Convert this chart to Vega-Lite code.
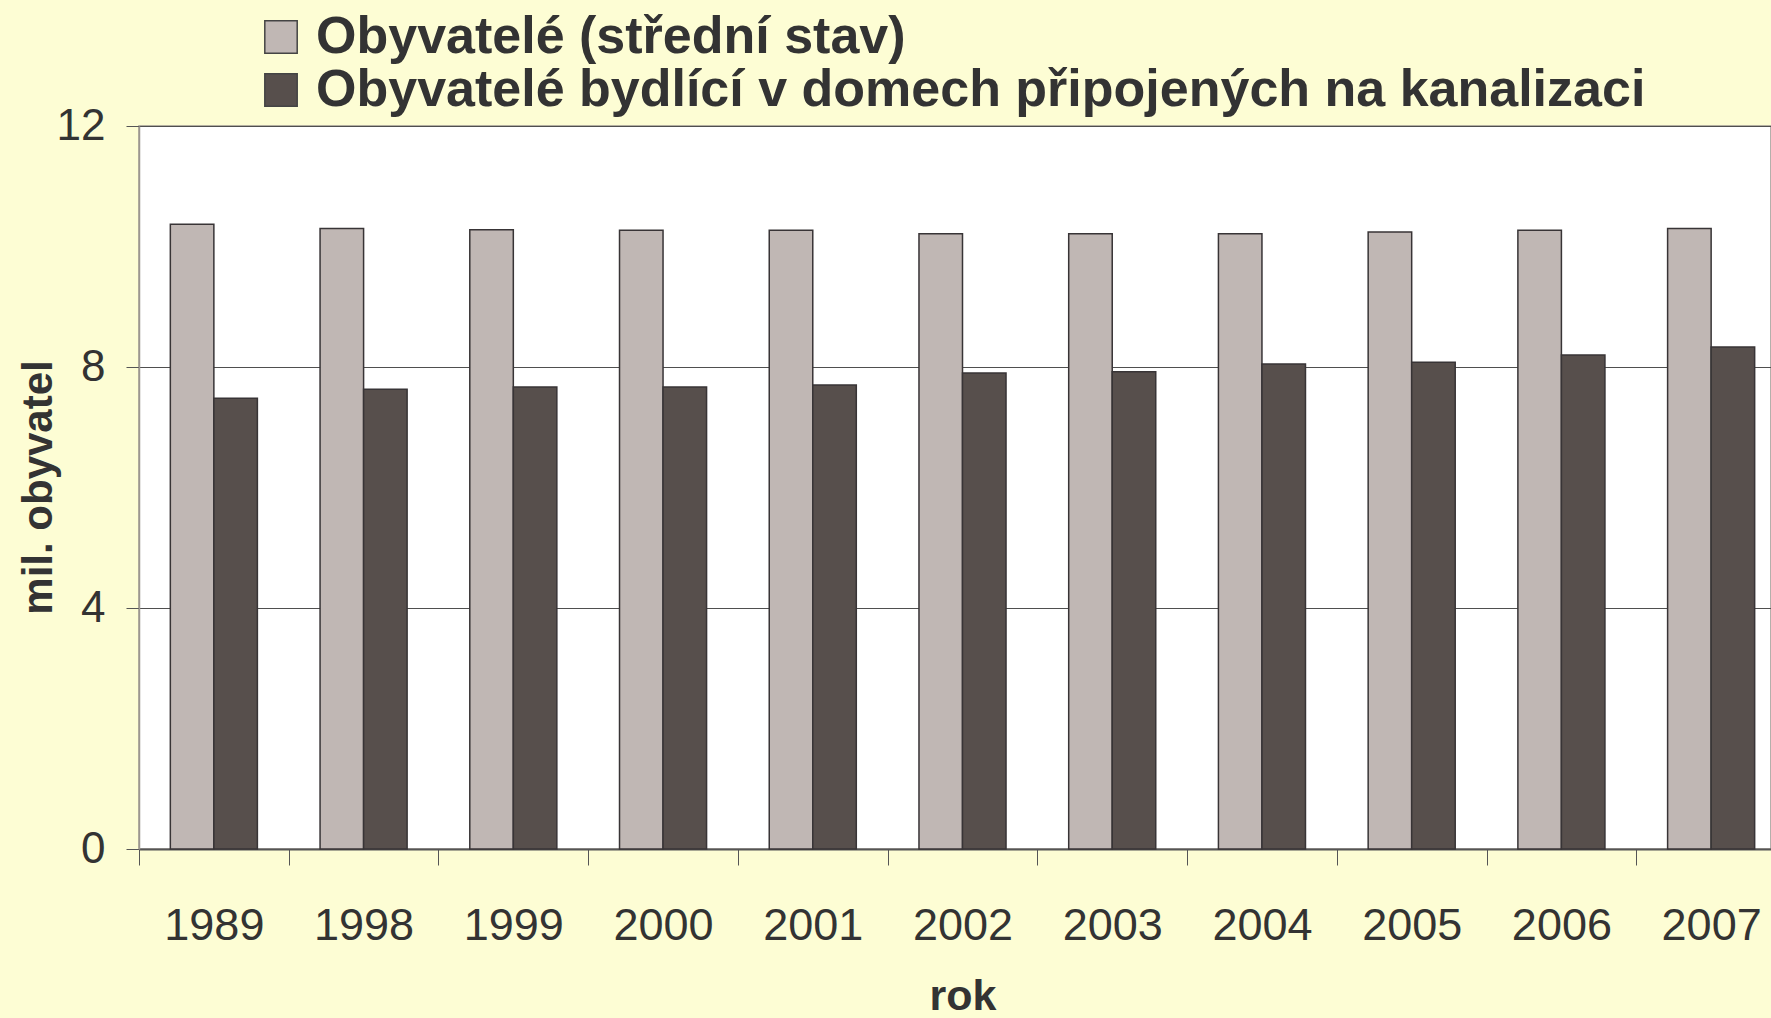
{
  "$schema": "https://vega.github.io/schema/vega-lite/v6.json",
  "autosize": {"type": "none"},
  "width": 1632,
  "height": 723,
  "padding": {"left": 139, "top": 126, "right": 0, "bottom": 169},
  "background": "#FDFDD4",
  "config": {
    "view": {"fill": "white", "stroke": "#9C9690", "strokeWidth": 1.5},
    "font": "Liberation Sans"
  },
  "data": {
    "values": [
      {"rok": "1989", "serie": "Obyvatelé (střední stav)", "hodnota": 10.37},
      {"rok": "1998", "serie": "Obyvatelé (střední stav)", "hodnota": 10.30},
      {"rok": "1999", "serie": "Obyvatelé (střední stav)", "hodnota": 10.28},
      {"rok": "2000", "serie": "Obyvatelé (střední stav)", "hodnota": 10.27},
      {"rok": "2001", "serie": "Obyvatelé (střední stav)", "hodnota": 10.27},
      {"rok": "2002", "serie": "Obyvatelé (střední stav)", "hodnota": 10.21},
      {"rok": "2003", "serie": "Obyvatelé (střední stav)", "hodnota": 10.21},
      {"rok": "2004", "serie": "Obyvatelé (střední stav)", "hodnota": 10.21},
      {"rok": "2005", "serie": "Obyvatelé (střední stav)", "hodnota": 10.24},
      {"rok": "2006", "serie": "Obyvatelé (střední stav)", "hodnota": 10.27},
      {"rok": "2007", "serie": "Obyvatelé (střední stav)", "hodnota": 10.30},
      {"rok": "1989", "serie": "Obyvatelé bydlící v domech připojených na kanalizaci", "hodnota": 7.48},
      {"rok": "1998", "serie": "Obyvatelé bydlící v domech připojených na kanalizaci", "hodnota": 7.63},
      {"rok": "1999", "serie": "Obyvatelé bydlící v domech připojených na kanalizaci", "hodnota": 7.67},
      {"rok": "2000", "serie": "Obyvatelé bydlící v domech připojených na kanalizaci", "hodnota": 7.67},
      {"rok": "2001", "serie": "Obyvatelé bydlící v domech připojených na kanalizaci", "hodnota": 7.70},
      {"rok": "2002", "serie": "Obyvatelé bydlící v domech připojených na kanalizaci", "hodnota": 7.90},
      {"rok": "2003", "serie": "Obyvatelé bydlící v domech připojených na kanalizaci", "hodnota": 7.92},
      {"rok": "2004", "serie": "Obyvatelé bydlící v domech připojených na kanalizaci", "hodnota": 8.05},
      {"rok": "2005", "serie": "Obyvatelé bydlící v domech připojených na kanalizaci", "hodnota": 8.08},
      {"rok": "2006", "serie": "Obyvatelé bydlící v domech připojených na kanalizaci", "hodnota": 8.20},
      {"rok": "2007", "serie": "Obyvatelé bydlící v domech připojených na kanalizaci", "hodnota": 8.33}
    ]
  },
  "mark": {"type": "bar", "stroke": "#383436", "strokeWidth": 1.5},
  "encoding": {
    "x": {
      "field": "rok",
      "type": "nominal",
      "scale": {"range": [0, 1647], "paddingInner": 0, "paddingOuter": 0},
      "axis": {
        "title": "rok",
        "titleFontSize": 43,
        "titleFontWeight": "bold",
        "titleColor": "#333333",
        "titleY": 160,
        "titleBaseline": "alphabetic",
        "labelFontSize": 45,
        "labelColor": "#333333",
        "labelAngle": 0,
        "labelBaseline": "alphabetic",
        "labelPadding": 74,
        "tickBand": "extent",
        "tickSize": 16,
        "tickColor": "#555555",
        "domainColor": "#555555",
        "domainWidth": 2,
        "grid": false
      }
    },
    "xOffset": {
      "field": "serie",
      "type": "nominal",
      "sort": ["Obyvatelé (střední stav)", "Obyvatelé bydlící v domech připojených na kanalizaci"],
      "scale": {"paddingInner": 0, "paddingOuter": 0.72}
    },
    "y": {
      "field": "hodnota",
      "type": "quantitative",
      "scale": {"domain": [0, 12], "nice": false},
      "axis": {
        "title": "mil. obyvatel",
        "titleFontSize": 42,
        "titleFontWeight": "bold",
        "titleColor": "#333333",
        "titleAngle": -90,
        "titleX": -88,
        "titleY": 361,
        "titleAlign": "center",
        "titleBaseline": "alphabetic",
        "values": [0, 4, 8, 12],
        "labelFontSize": 44,
        "labelColor": "#333333",
        "labelPadding": 21,
        "tickSize": 13,
        "tickColor": "#555555",
        "domainColor": "#9C9690",
        "domainWidth": 1.5,
        "gridColor": "#4F4F4F",
        "gridWidth": 1
      }
    },
    "color": {
      "field": "serie",
      "type": "nominal",
      "scale": {
        "domain": ["Obyvatelé (střední stav)", "Obyvatelé bydlící v domech připojených na kanalizaci"],
        "range": ["#C0B7B4", "#574F4C"]
      },
      "legend": {
        "orient": "none",
        "legendX": 116,
        "legendY": -115,
        "title": null,
        "labelFontSize": 52,
        "labelFontWeight": "bold",
        "labelColor": "#333333",
        "labelLimit": 2000,
        "labelOffset": 9,
        "symbolType": "square",
        "symbolSize": 1050,
        "symbolStrokeColor": "#444444",
        "symbolStrokeWidth": 1.5,
        "rowPadding": 1,
        "padding": 0
      }
    }
  }
}
